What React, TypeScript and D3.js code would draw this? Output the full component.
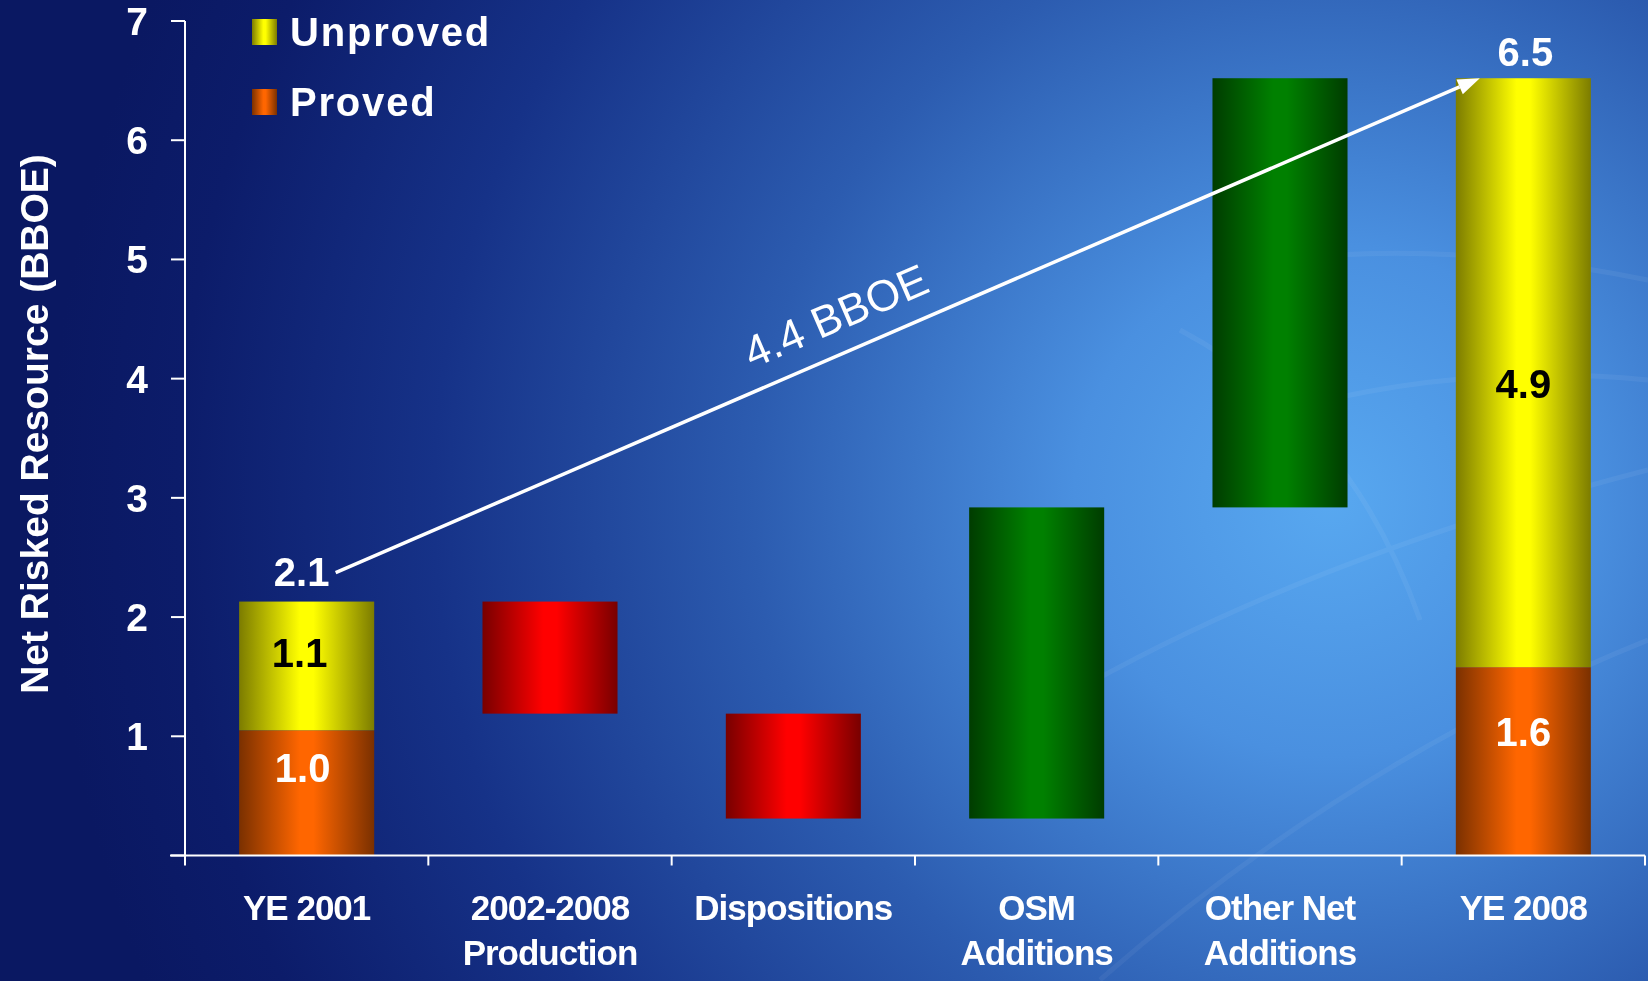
import React from "react";
import * as d3 from "d3";

const categories = ["YE 2001", "2002-2008 Production", "Dispositions", "OSM Additions", "Other Net Additions", "YE 2008"];
const categoryLines = [["YE 2001"], ["2002-2008", "Production"], ["Dispositions"], ["OSM", "Additions"], ["Other Net", "Additions"], ["YE 2008"]];
const proved2001 = 1.05;
const unproved2001 = 1.08;
const changes = [-0.94, -0.88, 2.61, 3.6]; // production, dispositions, OSM, other
const proved2008 = 1.58;
const unproved2008 = 4.94;
const yTicks = [0, 1, 2, 3, 4, 5, 6, 7];
const legendItems = ["Unproved", "Proved"];
const segmentLabels = ["1.0", "1.1", "1.6", "4.9"];
const totalLabels = ["2.1", "6.5"];
const arrowLabel = "4.4 BBOE";
const yTitle = "Net Risked Resource (BBOE)";

const W = 1648;
const H = 981;
const FONT = "'Liberation Sans', Arial, Helvetica, sans-serif";

export default function App() {
  const x = d3.scaleBand<string>().domain(categories).range([185, 1645]).paddingInner(0.445).paddingOuter(0.2225);
  const y = d3.scaleLinear().domain([0, 7]).range([855.5, 21]);
  const bw = x.bandwidth();

  const total2001 = proved2001 + unproved2001;
  const floats: { cat: string; y0: number; y1: number; color: string }[] = [];
  let run = total2001;
  changes.forEach((c, i) => {
    const next = run + c;
    floats.push({ cat: categories[i + 1], y0: Math.min(run, next), y1: Math.max(run, next), color: c < 0 ? "red" : "green" });
    run = next;
  });
  const total2008 = proved2008 + unproved2008;

  const stacks = [
    { cat: categories[0], segs: [{ y0: 0, y1: proved2001, color: "orange", label: segmentLabels[0], fill: "#fff", nudge: -25, nx: -4 }, { y0: proved2001, y1: total2001, color: "yellow", label: segmentLabels[1], fill: "#000", nudge: -13, nx: -7 }] },
    { cat: categories[5], segs: [{ y0: 0, y1: proved2008, color: "orange", label: segmentLabels[2], fill: "#fff", nudge: -30, nx: 0 }, { y0: proved2008, y1: total2008, color: "yellow", label: segmentLabels[3], fill: "#000", nudge: 11, nx: 0 }] },
  ];

  const ax0 = (x(categories[0]) as number) + bw / 2 + 29;
  const ay0 = y(total2001) - 29;
  const ax1 = (x(categories[5]) as number) + 24;
  const ay1 = y(total2008);
  const ang = Math.atan2(ay1 - ay0, ax1 - ax0);
  const len = Math.hypot(ax1 - ax0, ay1 - ay0);
  const ux = Math.cos(ang), uy = Math.sin(ang);
  const nx = uy, ny = -ux;
  const tPos = 0.45 * len;
  const tx = ax0 + ux * tPos + nx * 22;
  const ty = ay0 + uy * tPos + ny * 22;
  const headLen = 22, headW = 8;
  const hbx = ax1 - ux * headLen, hby = ay1 - uy * headLen;
  const head = `M${ax1},${ay1} L${hbx + (-uy) * headW},${hby + ux * headW} L${hbx - (-uy) * headW},${hby - ux * headW} Z`;

  const grads: Record<string, [string, string]> = {
    yellow: ["#7c7c00", "#ffff00"],
    orange: ["#7a3000", "#ff6600"],
    red: ["#780000", "#ff0000"],
    green: ["#003c00", "#008000"],
  };

  const xTickPos = [...categories.map((c) => (x(c) as number) - (x.step() - bw) / 2), 1645];

  return (
    <div style={{ position: "fixed", left: 0, top: 0, width: W, height: H }}>
      <svg width={W} height={H} style={{ display: "block", fontFamily: FONT }}>
        <defs>
          <radialGradient id="bg" gradientUnits="userSpaceOnUse" cx={1330} cy={500} r={1280}>
            <stop offset="0" stopColor="#58a8f0" />
            <stop offset="0.2" stopColor="#4a90e0" />
            <stop offset="0.45" stopColor="#2c5cb0" />
            <stop offset="0.7" stopColor="#163288" />
            <stop offset="0.9" stopColor="#0c1c6a" />
            <stop offset="1" stopColor="#0a1862" />
          </radialGradient>
          {Object.entries(grads).map(([k, [edge, mid]]) => (
            <linearGradient key={k} id={`g-${k}`} x1="0" x2="1" y1="0" y2="0">
              <stop offset="0" stopColor={edge} />
              <stop offset="0.45" stopColor={mid} />
              <stop offset="0.55" stopColor={mid} />
              <stop offset="1" stopColor={edge} />
            </linearGradient>
          ))}
        </defs>
        <rect x={0} y={0} width={W} height={H} fill="url(#bg)" />
        <g stroke="#ffffff" fill="none" opacity={0.05} strokeWidth={5}>
          <path d="M1060,700 Q1300,560 1648,470" />
          <path d="M1100,980 Q1350,760 1648,640" />
          <path d="M1280,260 Q1450,240 1648,280" />
          <path d="M1250,420 Q1450,360 1648,380" />
          <path d="M1180,330 Q1350,420 1420,620" />
        </g>

        {floats.map((f, i) => (
          <rect key={i} x={x(f.cat)} y={y(f.y1)} width={bw} height={y(f.y0) - y(f.y1)} fill={`url(#g-${f.color})`} />
        ))}
        {stacks.map((s, i) => (
          <g key={i}>
            {s.segs.map((g, j) => (
              <rect key={j} x={x(s.cat)} y={y(g.y1)} width={bw} height={y(g.y0) - y(g.y1)} fill={`url(#g-${g.color})`} />
            ))}
            {s.segs.map((g, j) => (
              <text key={"t" + j} x={(x(s.cat) as number) + bw / 2 + g.nx} y={(y(g.y0) + y(g.y1)) / 2 + g.nudge} dy="0.36em" textAnchor="middle" fontSize={40} fontWeight="bold" fill={g.fill}>
                {g.label}
              </text>
            ))}
          </g>
        ))}
        <text x={(x(categories[0]) as number) + bw / 2 - 5} y={y(total2001) - 16} textAnchor="middle" fontSize={40} fontWeight="bold" fill="#fff">{totalLabels[0]}</text>
        <text x={(x(categories[5]) as number) + bw / 2 + 2} y={y(total2008) - 12} textAnchor="middle" fontSize={40} fontWeight="bold" fill="#fff">{totalLabels[1]}</text>

        <g stroke="#fff" strokeWidth={2}>
          <line x1={185} x2={185} y1={y(7)} y2={y(0)} />
          <line x1={170} x2={1645} y1={y(0)} y2={y(0)} />
          {yTicks.map((t) => (
            <line key={t} x1={171} x2={185} y1={y(t)} y2={y(t)} />
          ))}
          {xTickPos.map((p, i) => (
            <line key={i} x1={p} x2={p} y1={y(0)} y2={y(0) + 10} />
          ))}
        </g>
        {yTicks.filter((t) => t > 0).map((t) => (
          <text key={t} x={148} y={y(t)} dy="0.36em" textAnchor="end" fontSize={39} fontWeight="bold" fill="#fff">{t}</text>
        ))}
        <text transform={`translate(48,424) rotate(-90)`} textAnchor="middle" fontSize={39} fontWeight="bold" fill="#fff">{yTitle}</text>

        {categoryLines.map((lines, i) => (
          <text key={i} textAnchor="middle" fontSize={35} fontWeight="bold" fill="#fff" letterSpacing={-1}>
            {lines.map((l, j) => (
              <tspan key={j} x={(x(categories[i]) as number) + bw / 2} y={920 + j * 45}>{l}</tspan>
            ))}
          </text>
        ))}

        {legendItems.map((l, i) => (
          <g key={l} transform={`translate(252, ${19 + i * 70})`}>
            <rect x={0} y={0} width={25} height={26} fill={`url(#g-${i === 0 ? "yellow" : "orange"})`} />
            <text x={38} y={27} fontSize={40} fontWeight="bold" fill="#fff" letterSpacing={1.8}>{l}</text>
          </g>
        ))}

        <line x1={ax0} y1={ay0} x2={hbx} y2={hby} stroke="#fff" strokeWidth={3.5} />
        <path d={head} fill="#fff" />
        <text transform={`translate(${tx},${ty}) rotate(${(ang * 180) / Math.PI})`} textAnchor="middle" fontSize={44} fill="#fff">{arrowLabel}</text>
      </svg>
    </div>
  );
}
